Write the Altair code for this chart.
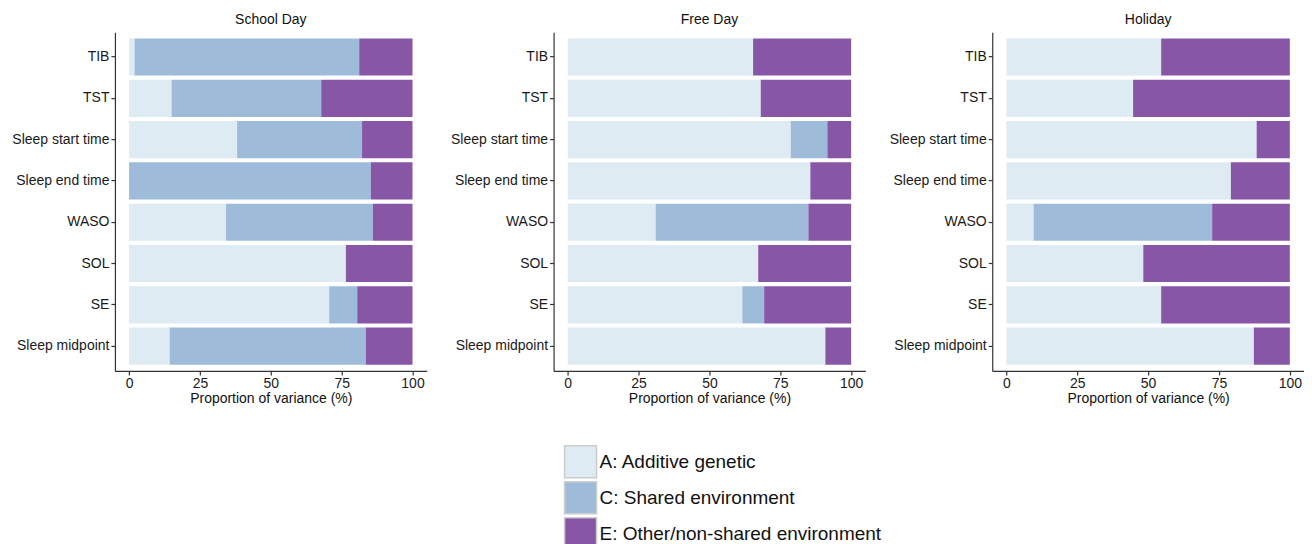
import altair as alt
import pandas as pd

measures = ["TIB", "TST", "Sleep start time", "Sleep end time", "WASO", "SOL", "SE", "Sleep midpoint"]
components = ["A: Additive genetic", "C: Shared environment", "E: Other/non-shared environment"]
panels = ["School Day", "Free Day", "Holiday"]
colors = ["#deebf3", "#9ebcda", "#8856a7"]

school_A = [1.9, 15.0, 38.1, 0.0, 34.2, 76.5, 70.6, 14.3]
school_C = [79.3, 52.8, 44.1, 85.3, 51.8, 0.0, 9.9, 69.2]
school_E = [18.8, 32.2, 17.8, 14.7, 14.0, 23.5, 19.5, 16.5]

free_A = [65.4, 68.1, 78.7, 85.6, 31.0, 67.2, 61.6, 90.9]
free_C = [0.0, 0.0, 12.9, 0.0, 53.9, 0.0, 7.7, 0.0]
free_E = [34.6, 31.9, 8.4, 14.4, 15.1, 32.8, 30.7, 9.1]

holiday_A = [54.6, 44.7, 88.3, 79.2, 9.6, 48.3, 54.6, 87.3]
holiday_C = [0.0, 0.0, 0.0, 0.0, 63.0, 0.0, 0.0, 0.0]
holiday_E = [45.4, 55.3, 11.7, 20.8, 27.4, 51.7, 45.4, 12.7]

series = {
    "School Day": [school_A, school_C, school_E],
    "Free Day": [free_A, free_C, free_E],
    "Holiday": [holiday_A, holiday_C, holiday_E],
}

rows = []
for p in panels:
    for ci, comp in enumerate(components):
        for mi, m in enumerate(measures):
            rows.append({"panel": p, "measure": m, "component": comp, "ord": ci,
                         "value": series[p][ci][mi]})
df = pd.DataFrame(rows)

FONT = "Liberation Sans"


def panel(name):
    return alt.Chart(df[df.panel == name]).mark_bar(strokeWidth=0).encode(
        x=alt.X("value:Q", stack="zero",
                scale=alt.Scale(domain=[-5, 105], nice=False, zero=False),
                axis=alt.Axis(values=[0, 25, 50, 75, 100], title="Proportion of variance (%)")),
        y=alt.Y("measure:N", sort=measures,
                scale=alt.Scale(paddingInner=0.1, paddingOuter=0.15),
                axis=alt.Axis(title=None)),
        color=alt.Color("component:N",
                        scale=alt.Scale(domain=components, range=colors),
                        legend=alt.Legend(orient="none", legendX=449, legendY=413, title=None,
                                          symbolType="square", symbolSize=1024,
                                          symbolStrokeColor="#cccccc", symbolStrokeWidth=1.5,
                                          symbolOpacity=1, labelFontSize=19, labelFont=FONT,
                                          labelColor="#111111", rowPadding=-5, labelOffset=2,
                                          padding=0, labelLimit=400)),
        order=alt.Order("ord:Q"),
    ).properties(width=312, height=339,
                 title=alt.Title(name, fontSize=14, font=FONT, fontWeight="normal",
                                 color="#111111", offset=5))


chart = alt.hconcat(panel("School Day"), panel("Free Day"), panel("Holiday"),
                    spacing=127, bounds="flush").properties(
    padding={"left": 3, "top": 5, "right": 0, "bottom": 0}
).configure_view(stroke=None).configure_axis(
    grid=False, domainColor="#333333", domainWidth=1.2, tickColor="#333333", tickWidth=1.2,
    tickSize=4, labelFontSize=14, labelFont=FONT, labelColor="#1a1a1a", labelPadding=2,
    titleFontSize=14, titleFont=FONT, titleFontWeight="normal", titleColor="#111111",
    titlePadding=1
)

chart.save("out.html", embed_options={"renderer": "svg", "actions": False})
